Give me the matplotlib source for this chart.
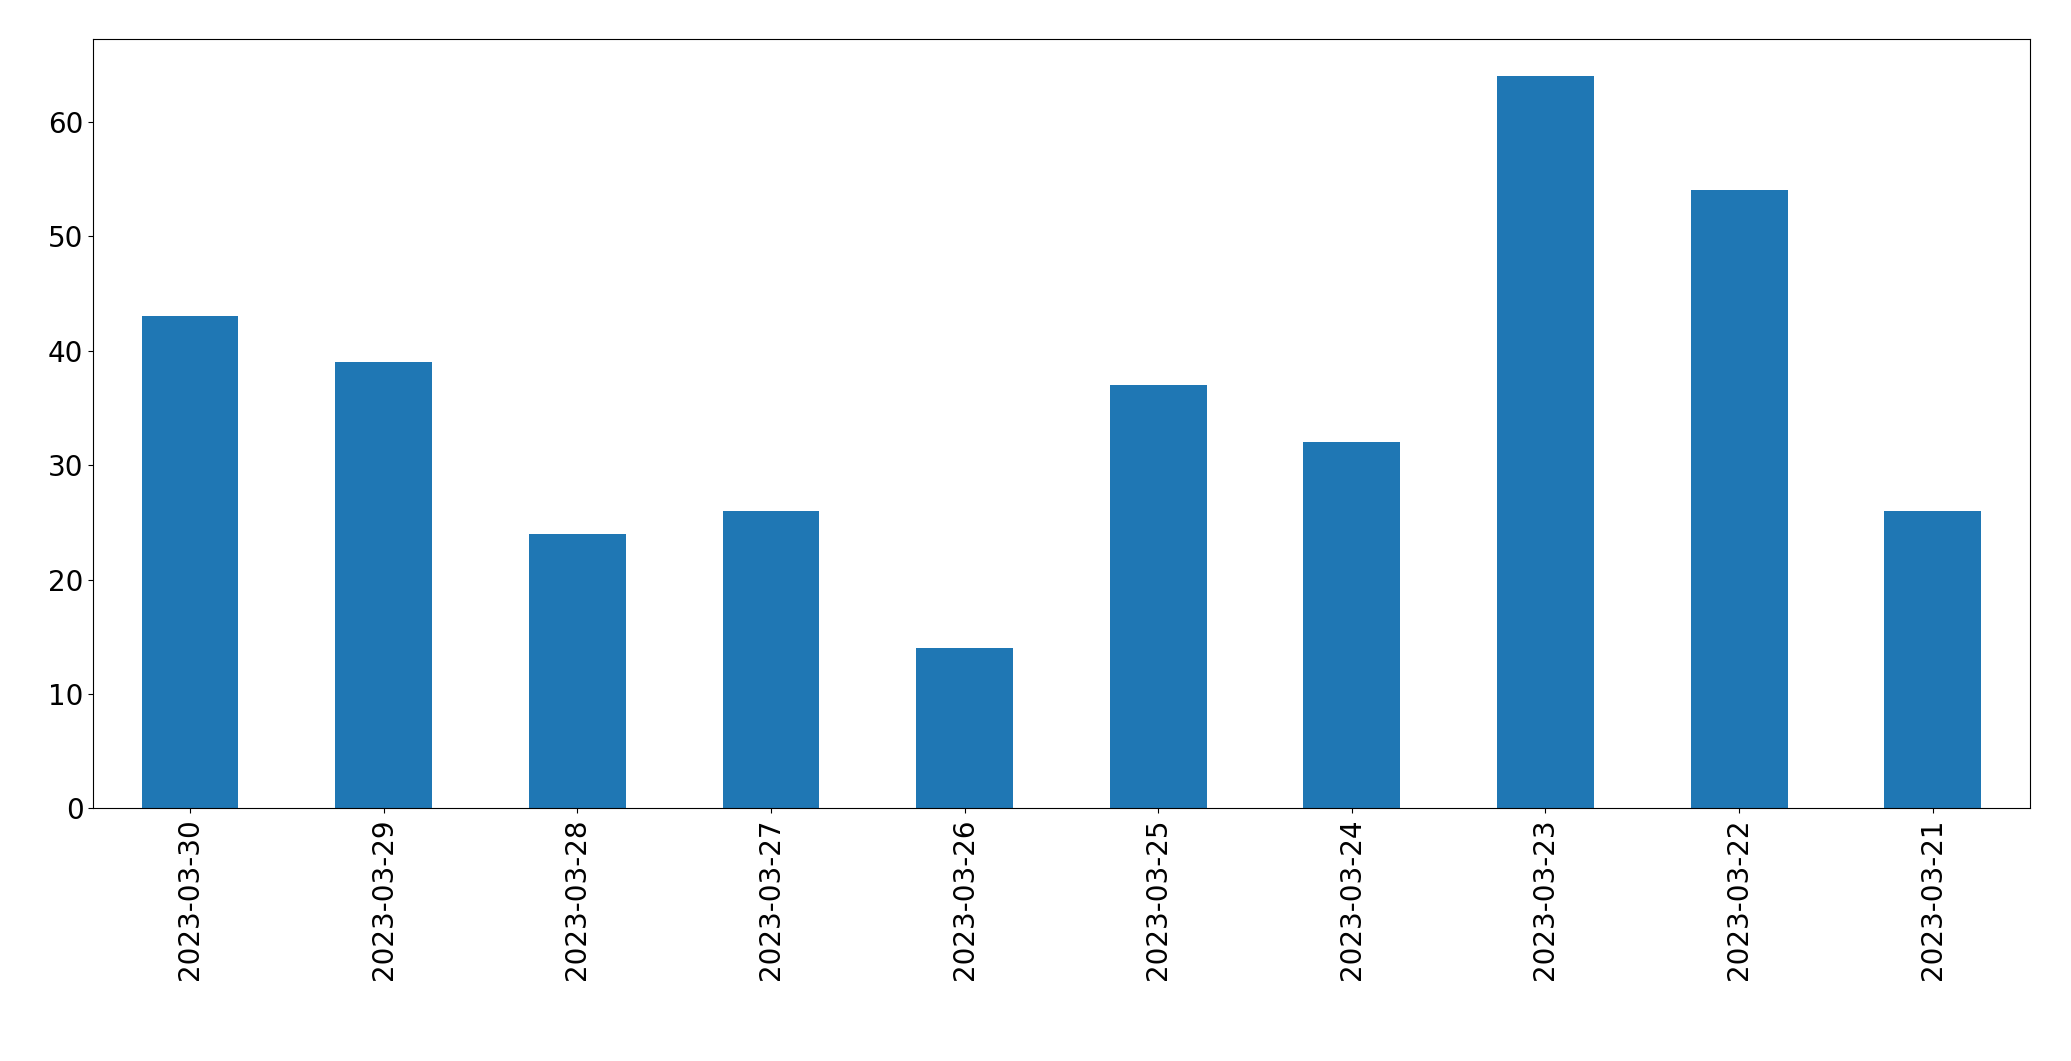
import matplotlib
matplotlib.use("Agg")
import matplotlib.pyplot as plt

dates = ["2023-03-30","2023-03-29","2023-03-28","2023-03-27","2023-03-26",
         "2023-03-25","2023-03-24","2023-03-23","2023-03-22","2023-03-21"]
values = [43, 39, 24, 26, 14, 37, 32, 64, 54, 26]

fig = plt.figure(figsize=(20.71, 10.61), dpi=100)
ax = fig.add_axes([0.045, 0.238, 0.935, 0.725])
x = range(len(dates))
ax.bar(x, values, width=0.5, color="#1f77b4")
ax.set_xticks(list(x))
ax.set_xticklabels(dates, rotation=90)
ax.set_xlim(-0.5, len(dates) - 0.5)
ax.set_ylim(0, 67.2)
ax.tick_params(labelsize=20)
fig.savefig("out.png", dpi=100)
